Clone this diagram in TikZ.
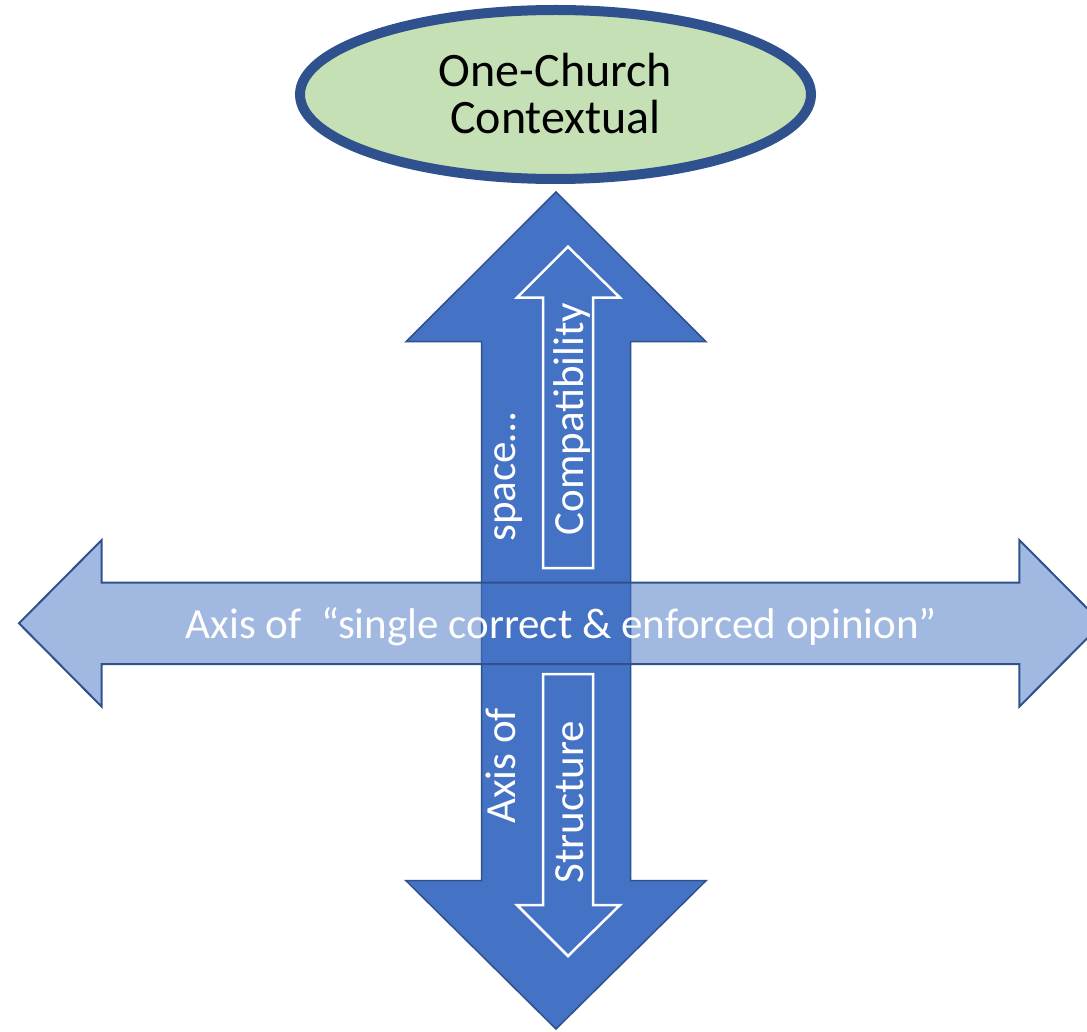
\documentclass[tikz,border=0pt]{standalone}
\usepackage{fontspec}
\setmainfont{Carlito}
\usetikzlibrary{shapes.geometric}
\definecolor{axisblue}{HTML}{4472C4}
\definecolor{edgeblue}{HTML}{2F528F}
\definecolor{ovalgreen}{HTML}{C5E0B4}
\tikzset{
  bigarrow/.style={fill=axisblue, draw=edgeblue, line width=1.5pt, line join=miter},
  hzarrow/.style={fill=axisblue, fill opacity=0.5, draw=edgeblue, draw opacity=1, line width=2pt, line join=miter},
  innerarrow/.style={draw=white, line width=2.5pt, line join=miter},
  whitetext/.style={text=white, font=\fontsize{43}{50}\selectfont, inner sep=0pt, anchor=base},
  ovaltext/.style={text=black, font=\fontsize{48}{47}\selectfont, inner sep=0pt, anchor=base},
}
\begin{document}
\begin{tikzpicture}[x=1pt, y=-1pt]
\clip (0,0) rectangle (1087,1032);
\fill[white] (0,0) rectangle (1087,1032);

% oval
\node[ellipse, draw=edgeblue, fill=ovalgreen, line width=10pt,
      minimum width=511pt, minimum height=169pt, inner sep=0pt] (oval) at (555.5,94.5) {};
\node[ovaltext] (ovalA) at (555.5,86.7) {One-Church};
\node[ovaltext] (ovalB) at (555.5,134) {Contextual};

% vertical double arrow
\draw[bigarrow] (556,192) -- (706,341.7) -- (630.7,341.7) -- (630.7,880.7) -- (706,880.7)
  -- (556,1029) -- (406,880.7) -- (481.7,880.7) -- (481.7,341.7) -- (406,341.7) -- cycle;

% inner outline arrows
\draw[innerarrow] (568,246.7) -- (620,297.7) -- (593,297.7) -- (593,568) -- (543,568)
  -- (543,297.7) -- (517,297.7) -- cycle;
\draw[innerarrow] (543,674) -- (593,674) -- (593,905) -- (620,905) -- (568,956)
  -- (517,905) -- (543,905) -- cycle;

% vertical texts
\node[whitetext, rotate=90] (compat) at (583,419) {Compatibility};
\node[whitetext, rotate=90] (space) at (515,477) {space…};
\node[whitetext, rotate=90] (axisof) at (515,766) {Axis of};
\node[whitetext, rotate=90] (struct) at (583,802) {Structure};

% horizontal double arrow (translucent, on top)
\draw[hzarrow] (19,623.3) -- (101.7,540) -- (101.7,582.7) -- (1019.3,582.7) -- (1019.3,540)
  -- (1102,623.3) -- (1019.3,706.7) -- (1019.3,664) -- (101.7,664) -- (101.7,706.7) -- cycle;

\node[whitetext] (hlabel) at (561.5,638) {Axis of\ \ “single correct \& enforced opinion”};
\end{tikzpicture}
\end{document}
